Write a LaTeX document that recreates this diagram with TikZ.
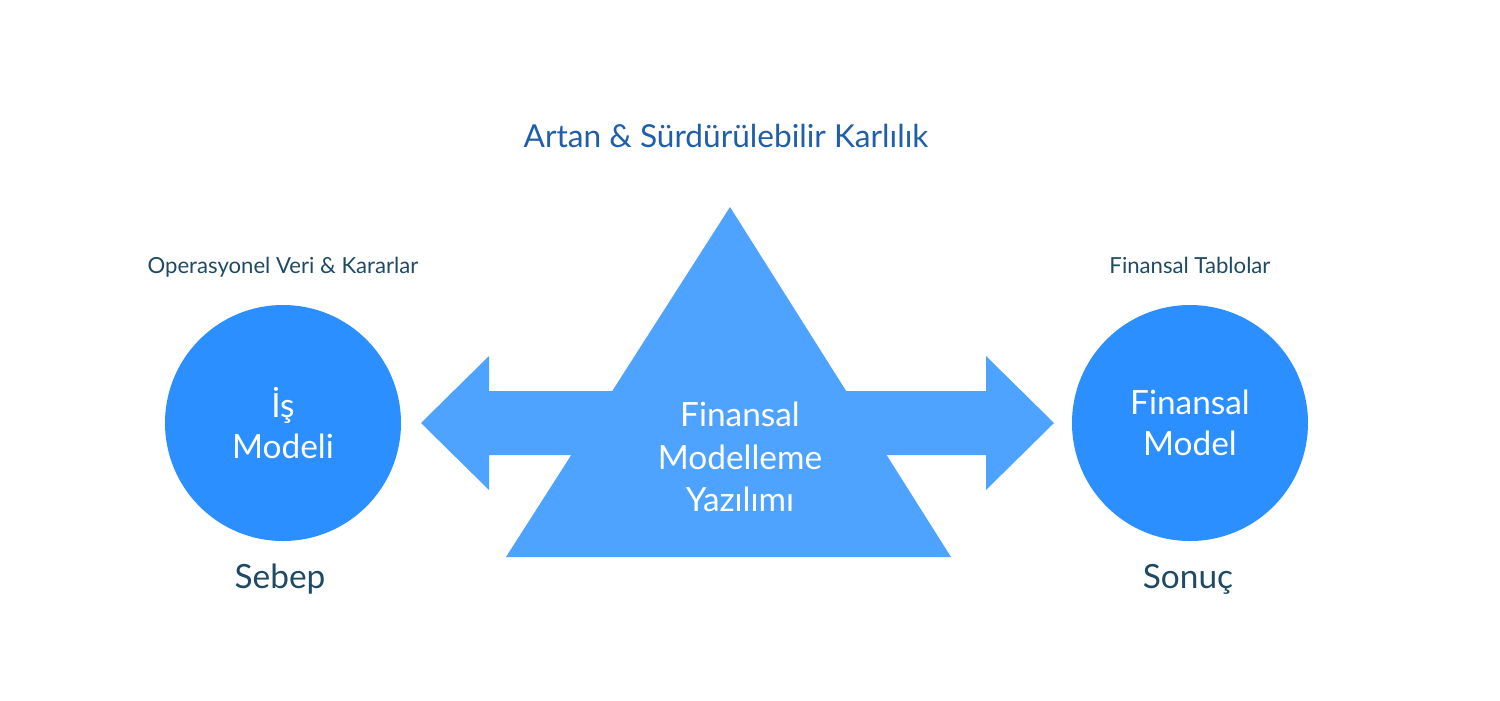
\documentclass[tikz,border=0pt]{standalone}
\usepackage{fontspec}
\setmainfont{Lato}
\usepackage{tikz}
\usetikzlibrary{positioning}
\definecolor{lightblau}{HTML}{4DA3FF}
\definecolor{deepblau}{HTML}{2B8FFF}
\definecolor{textteal}{HTML}{1E4A64}
\definecolor{titleblau}{HTML}{1F5FAA}
\tikzset{
  kreis/.style={circle, fill=deepblau, minimum size=2.36cm, inner sep=0pt, text=white, align=center, font=\fontsize{9.5}{11.5}\selectfont},
  ustlabel/.style={text=textteal, font=\fontsize{6.3}{7.5}\selectfont},
  altlabel/.style={text=textteal, font=\fontsize{9.5}{11}\selectfont}
}
\begin{document}
\begin{tikzpicture}
			\useasboundingbox (0,0) rectangle (15,7);
			% double arrow
			\fill [lightblau] (4.21,2.77) -- (4.89,3.44) -- (4.89,3.09) -- (9.86,3.09) -- (9.86,3.44)
			  -- (10.54,2.77) -- (9.86,2.10) -- (9.86,2.45) -- (4.89,2.45) -- (4.89,2.10) -- cycle;
			% triangle
			\fill [lightblau] (7.30,4.93) -- (9.51,1.43) -- (5.06,1.43) -- cycle;
			\node (soft) [text=white, align=center, font=\fontsize{9.5}{12}\selectfont] at (7.40,2.43) {Finansal\\Modelleme\\Yazılımı};
			\node (title) [text=titleblau, font=\fontsize{9}{11}\selectfont] at (7.26,5.64) {Artan \& Sürdürülebilir Karlılık};
			
			\node (is) [kreis] at (2.83,2.77) {İş\\Modeli};
			\node (fin) [kreis] at (11.90,2.77) {Finansal\\ Model};
			\node (opv) [ustlabel] at (2.83,4.33) {Operasyonel Veri \& Kararlar};
			\node (tab) [ustlabel] at (11.90,4.35) {Finansal Tablolar};
			\node (sebep) [altlabel] at (2.80,1.21) {Sebep};
			\node (sonuc) [altlabel] at (11.88,1.21) {Sonuç};
		\end{tikzpicture}
\end{document}
